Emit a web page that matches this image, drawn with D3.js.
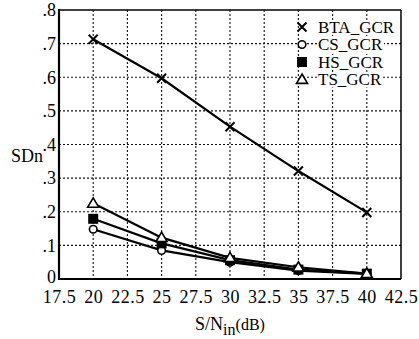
<!DOCTYPE html>
<html>
<head>
<meta charset="utf-8">
<script src="https://cdn.jsdelivr.net/npm/d3@7"></script>
<style>
  html, body { margin: 0; padding: 0; background: #fff; }
  svg { display: block; }
  text { font-family: "Liberation Serif", "DejaVu Serif", serif; fill: #000; }
</style>
</head>
<body>
<svg id="chart" width="419" height="339"></svg>
<script>
// S/N input levels (dB)
const snr = [20, 25, 30, 35, 40];

// Normalised standard deviation per method
const btaGcr = [0.713, 0.597, 0.453, 0.321, 0.198];
const csGcr  = [0.148, 0.085, 0.050, 0.025, 0.015];
const hsGcr  = [0.179, 0.106, 0.056, 0.028, 0.016];
const tsGcr  = [0.225, 0.123, 0.063, 0.035, 0.016];

const seriesNames = ["BTA_GCR", "CS_GCR", "HS_GCR", "TS_GCR"];
const seriesMarks = ["cross", "circle", "square", "triangle"];
const seriesValues = [btaGcr, csGcr, hsGcr, tsGcr];

const xTicks = [17.5, 20, 22.5, 25, 27.5, 30, 32.5, 35, 37.5, 40, 42.5];
const yTicks = [0, 0.1, 0.2, 0.3, 0.4, 0.5, 0.6, 0.7, 0.8];
const yTickLabels = ["0", ".1", ".2", ".3", ".4", ".5", ".6", ".7", ".8"];

const svg = d3.select("#chart");
const m = { left: 59, right: 401, top: 10, bottom: 279 };

const x = d3.scaleLinear().domain([17.5, 42.5]).range([m.left, m.right]);
const y = d3.scaleLinear().domain([0, 0.8]).range([m.bottom, m.top]);

// dotted grid as one path
const gp = d3.path();
xTicks.slice(1, -1).forEach(t => { gp.moveTo(x(t), m.top); gp.lineTo(x(t), m.bottom); });
yTicks.slice(1, -1).forEach(t => { gp.moveTo(m.left, y(t)); gp.lineTo(m.right, y(t)); });
svg.append("path").attr("d", gp.toString())
  .attr("fill", "none").attr("stroke", "#111").attr("stroke-width", 1.1)
  .attr("stroke-dasharray", "2,2");

// axes with tick labels
const xAxis = d3.axisBottom(x).tickValues(xTicks).tickSize(0).tickPadding(11)
  .tickFormat(d => String(d));
const gx = svg.append("g").attr("transform", `translate(0,${m.bottom})`).call(xAxis);
gx.select(".domain").remove();
gx.selectAll("text").attr("font-size", 18).attr("font-family", "Liberation Serif")
  .attr("letter-spacing", "0.5px");

const yAxis = d3.axisLeft(y).tickValues(yTicks).tickSize(0).tickPadding(3)
  .tickFormat((d, i) => yTickLabels[i]);
const gy = svg.append("g").attr("transform", `translate(${m.left},0)`).call(yAxis);
gy.select(".domain").remove();
gy.selectAll("text").attr("font-size", 18).attr("font-family", "Liberation Serif");
gy.selectAll(".tick").filter(d => d === 0).select("text").attr("dy", "0.2em");

// frame
svg.append("line").attr("x1", m.left).attr("x2", m.right).attr("y1", m.top).attr("y2", m.top)
  .attr("stroke", "#000").attr("stroke-width", 1.5);
svg.append("line").attr("x1", m.right).attr("x2", m.right).attr("y1", m.top).attr("y2", m.bottom)
  .attr("stroke", "#000").attr("stroke-width", 1.5);
svg.append("line").attr("x1", m.left).attr("x2", m.left).attr("y1", m.top - 1).attr("y2", m.bottom + 1)
  .attr("stroke", "#000").attr("stroke-width", 2.2);
svg.append("line").attr("x1", m.left - 1).attr("x2", m.right).attr("y1", m.bottom).attr("y2", m.bottom)
  .attr("stroke", "#000").attr("stroke-width", 2.2);

// marker drawing
function drawMark(g, type, cx, cy) {
  if (type === "cross") {
    const s = 4.5;
    g.append("path").attr("d", `M${cx - s},${cy - s}L${cx + s},${cy + s}M${cx - s},${cy + s}L${cx + s},${cy - s}`)
      .attr("stroke", "#000").attr("stroke-width", 2).attr("fill", "none");
  } else if (type === "circle") {
    g.append("circle").attr("cx", cx).attr("cy", cy).attr("r", 3.8)
      .attr("fill", "#fff").attr("stroke", "#000").attr("stroke-width", 1.6);
  } else if (type === "square") {
    g.append("rect").attr("x", cx - 5).attr("y", cy - 5).attr("width", 10).attr("height", 10)
      .attr("fill", "#000");
  } else if (type === "triangle") {
    const s = 5.5;
    g.append("path").attr("d", `M${cx},${cy - s}L${cx + s},${cy + s * 0.7}L${cx - s},${cy + s * 0.7}Z`)
      .attr("fill", "#fff").attr("stroke", "#000").attr("stroke-width", 1.6);
  }
}

// series lines and markers
const seriesLine = d3.line().x((d, i) => x(snr[i])).y(d => y(d));
const plot = svg.append("g");
seriesValues.forEach(vals => {
  plot.append("path").datum(vals).attr("d", seriesLine)
    .attr("fill", "none").attr("stroke", "#000").attr("stroke-width", 2.2);
});
seriesValues.forEach((vals, si) => {
  vals.forEach((v, i) => drawMark(plot, seriesMarks[si], x(snr[i]), y(v)));
});

// legend
const legend = svg.append("g");
const legendY = [27, 44.5, 62, 79.5];
seriesNames.forEach((name, i) => {
  const t = legend.append("text").attr("x", 318).attr("y", legendY[i])
    .attr("dy", "0.35em").attr("font-size", 17).text(name);
  const bb = t.node().getBBox();
  legend.insert("rect", "text").attr("x", bb.x - 1).attr("y", bb.y + 2)
    .attr("width", bb.width + 2).attr("height", bb.height - 4).attr("fill", "#fff");
  drawMark(legend, seriesMarks[i], 302, legendY[i]);
});

// axis titles
svg.append("text").attr("x", 11).attr("y", 162).attr("font-size", 18).text("SDn");
const xt = svg.append("text").attr("x", 230).attr("y", 330).attr("text-anchor", "middle").attr("font-size", 18);
xt.append("tspan").text("S/N");
xt.append("tspan").attr("dy", 5).attr("font-size", 16).text("in");
xt.append("tspan").attr("dy", -5).attr("font-size", 16).text("(dB)");
</script>
</body>
</html>
